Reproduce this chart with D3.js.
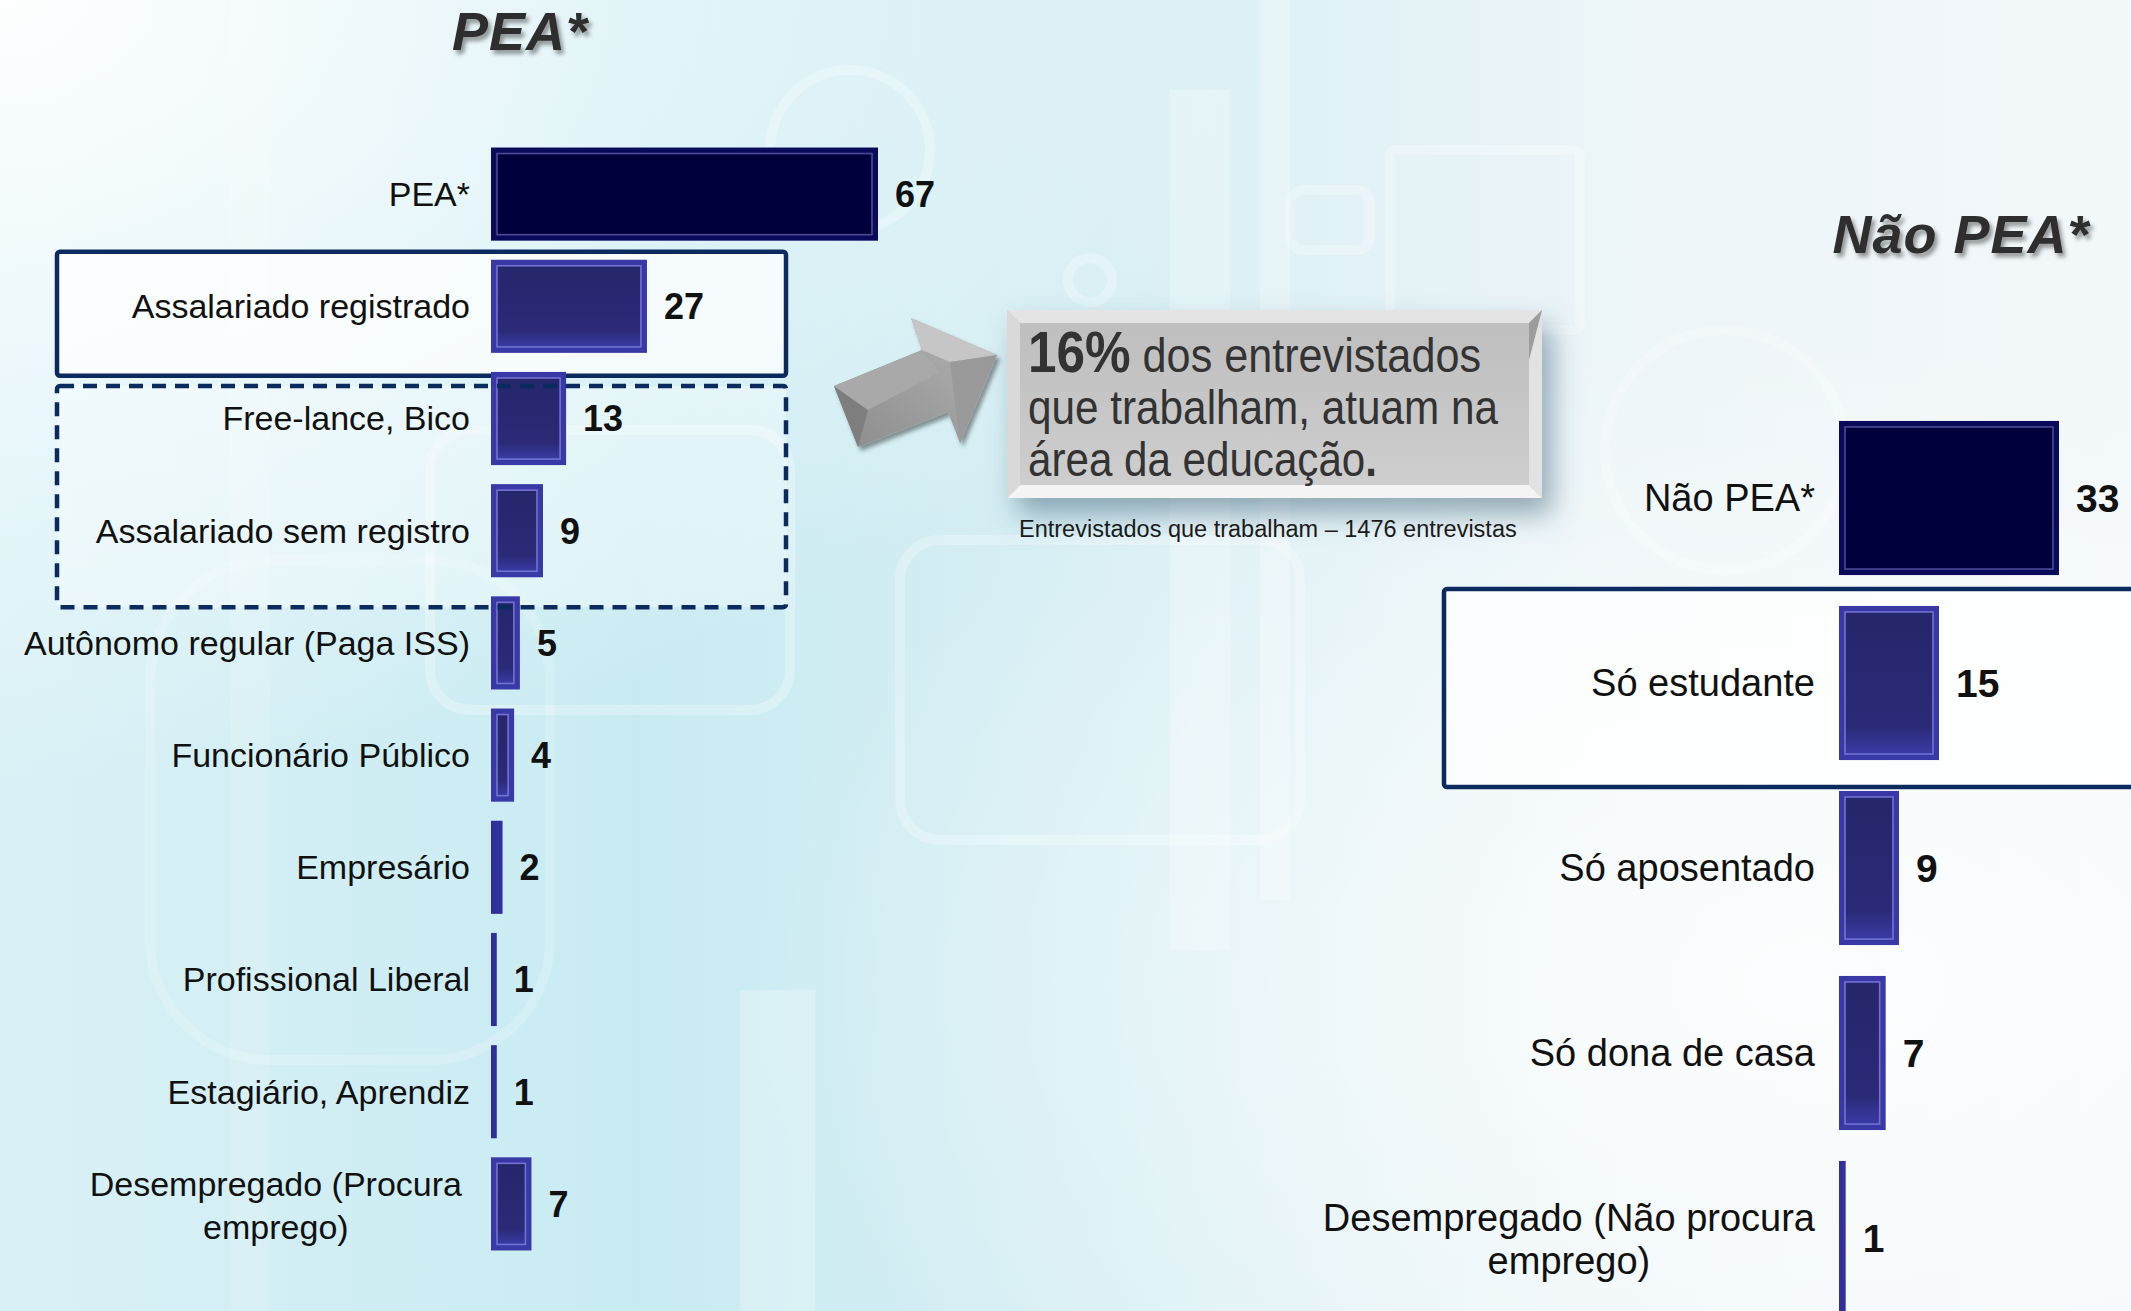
<!DOCTYPE html>
<html>
<head>
<meta charset="utf-8">
<script src="https://d3js.org/d3.v7.min.js"></script>
<style>
  body { margin: 0; overflow: hidden; }
  text { font-family: "Liberation Sans", Arial, sans-serif; fill: #111; }
</style>
</head>
<body>
<svg id="chart"></svg>
<script>
// --- data ---
const peaCategories = ["PEA*", "Assalariado registrado", "Free-lance, Bico", "Assalariado sem registro",
  "Autônomo regular (Paga ISS)", "Funcionário Público", "Empresário", "Profissional Liberal",
  "Estagiário, Aprendiz", "Desempregado (Procura emprego)"];
const peaValues = [67, 27, 13, 9, 5, 4, 2, 1, 1, 7];

const naoCategories = ["Não PEA*", "Só estudante", "Só aposentado", "Só dona de casa",
  "Desempregado (Não procura emprego)"];
const naoValues = [33, 15, 9, 7, 1];

const titles = ["PEA*", "Não PEA*"];
const calloutLines = [["16%", " dos entrevistados"], ["", "que trabalham, atuam na"], ["", "área da educação", "."]];
const calloutNote = "Entrevistados que trabalham – 1476 entrevistas";

const W = 2131, H = 1311;
const svg = d3.select("#chart").attr("width", W).attr("height", H);
const defs = svg.append("defs");

// background
const bg = defs.append("linearGradient").attr("id", "bg").attr("x1", 0).attr("x2", 1).attr("y1", 0).attr("y2", 0);
[["0%", "#d9f1f6"], ["30%", "#c8ebf2"], ["52%", "#d8eff4"], ["75%", "#ecf5f8"], ["100%", "#f3f8fa"]]
  .forEach(s => bg.append("stop").attr("offset", s[0]).attr("stop-color", s[1]));
const glow = defs.append("radialGradient").attr("id", "glow").attr("cx", 0).attr("cy", 0).attr("r", 0.6);
glow.append("stop").attr("offset", "0%").attr("stop-color", "#fff").attr("stop-opacity", 0.95);
glow.append("stop").attr("offset", "100%").attr("stop-color", "#fff").attr("stop-opacity", 0);
const glow2 = defs.append("radialGradient").attr("id", "glow2").attr("cx", 0.85).attr("cy", 0.75).attr("r", 0.5);
glow2.append("stop").attr("offset", "0%").attr("stop-color", "#fff").attr("stop-opacity", 0.8);
glow2.append("stop").attr("offset", "100%").attr("stop-color", "#fff").attr("stop-opacity", 0);

svg.append("rect").attr("width", W).attr("height", H).attr("fill", "url(#bg)");
svg.append("rect").attr("width", W).attr("height", H).attr("fill", "url(#glow)");
svg.append("rect").attr("width", W).attr("height", H).attr("fill", "url(#glow2)");

// faint decorative shapes
const deco = svg.append("g").attr("fill", "none").attr("stroke", "#fff").attr("stroke-opacity", 0.28).attr("stroke-width", 10);
deco.append("rect").attr("x", 430).attr("y", 430).attr("width", 360).attr("height", 280).attr("rx", 40);
deco.append("rect").attr("x", 900).attr("y", 540).attr("width", 400).attr("height", 300).attr("rx", 40);
deco.append("rect").attr("x", 1390).attr("y", 150).attr("width", 190).attr("height", 180).attr("rx", 6);
deco.append("rect").attr("x", 1290).attr("y", 190).attr("width", 80).attr("height", 60).attr("rx", 14);
deco.append("circle").attr("cx", 850).attr("cy", 150).attr("r", 80);
deco.append("circle").attr("cx", 1725).attr("cy", 450).attr("r", 120);
deco.append("circle").attr("cx", 1090).attr("cy", 280).attr("r", 22);
deco.append("rect").attr("x", 150).attr("y", 560).attr("width", 400).attr("height", 500).attr("rx", 120).attr("stroke-opacity", 0.18);
const decoFill = svg.append("g").attr("fill", "#fff").attr("fill-opacity", 0.25);
decoFill.append("rect").attr("x", 1170).attr("y", 90).attr("width", 60).attr("height", 860);
decoFill.append("rect").attr("x", 740).attr("y", 990).attr("width", 75).attr("height", 330);
decoFill.append("rect").attr("x", 1260).attr("y", 0).attr("width", 30).attr("height", 900);
decoFill.append("rect").attr("x", 230).attr("y", 0).attr("width", 40).attr("height", 1311).attr("fill-opacity", 0.15);

// filters
const tsh = defs.append("filter").attr("id", "tshadow").attr("x", "-20%").attr("y", "-20%").attr("width", "150%").attr("height", "160%");
tsh.append("feDropShadow").attr("dx", 3).attr("dy", 4).attr("stdDeviation", 2).attr("flood-color", "#000").attr("flood-opacity", 0.4);
const bsh = defs.append("filter").attr("id", "bshadow").attr("x", "-20%").attr("y", "-20%").attr("width", "150%").attr("height", "160%");
bsh.append("feDropShadow").attr("dx", 10).attr("dy", 16).attr("stdDeviation", 14).attr("flood-color", "#4a6a80").attr("flood-opacity", 0.55);

// --- scales ---
const xL = d3.scaleLinear().domain([0, 67]).range([491, 878]);
const yL = d3.scaleBand().domain(peaCategories).range([138, 1260]).paddingInner(0.17).paddingOuter(0.085);
const xR = d3.scaleLinear().domain([0, 33]).range([1839, 2059]);
const yR = d3.scaleBand().domain(naoCategories).range([405.5, 1330.5]).paddingInner(0.167).paddingOuter(0.0835);

// annotation boxes (behind bars)
const boxColor = "#0b2b5f";
const bwL = yL.bandwidth(), bwR = yR.bandwidth();
svg.append("rect")
  .attr("x", 57).attr("width", 786 - 57)
  .attr("y", yL(peaCategories[1]) - 8).attr("height", bwL + 31)
  .attr("fill", "#fff").attr("fill-opacity", 0.75)
  .attr("stroke", boxColor).attr("stroke-width", 4.5).attr("rx", 3);
svg.append("rect")
  .attr("x", 1444).attr("width", 720)
  .attr("y", yR(naoCategories[1]) - 17).attr("height", bwR + 44)
  .attr("fill", "#fff").attr("fill-opacity", 0.75)
  .attr("stroke", boxColor).attr("stroke-width", 4.5).attr("rx", 3);
const dashY0 = yL(peaCategories[2]) + 14, dashY1 = yL(peaCategories[3]) + bwL + 30;
svg.append("rect")
  .attr("x", 57).attr("width", 786 - 57)
  .attr("y", dashY0).attr("height", dashY1 - dashY0)
  .attr("fill", "#fff").attr("fill-opacity", 0.35)
  .attr("stroke", "none");

// bevel gradients for bars
const bevel = defs.append("linearGradient").attr("id", "bevel").attr("x1", 0).attr("y1", 0).attr("x2", 0).attr("y2", 1);
bevel.append("stop").attr("offset", "0%").attr("stop-color", "#26266c");
bevel.append("stop").attr("offset", "80%").attr("stop-color", "#2a2a76");
bevel.append("stop").attr("offset", "100%").attr("stop-color", "#3a3aa6");

function drawBars(g, cats, vals, x, y) {
  const bw = y.bandwidth();
  const data = cats.map((c, i) => ({ c: c, v: vals[i], main: i === 0 }));
  const bar = g.selectAll("g.bar").data(data).enter().append("g").attr("class", "bar");
  bar.append("rect")
    .attr("x", x(0)).attr("y", d => y(d.c))
    .attr("width", d => Math.max(3, x(d.v) - x(0))).attr("height", bw)
    .attr("fill", d => d.main ? "#0a0a5a" : (d.v <= 2 ? "#30309a" : "#3838a6"));
  bar.filter(d => x(d.v) - x(0) > 14).append("rect")
    .attr("x", x(0) + 6).attr("y", d => y(d.c) + 6)
    .attr("width", d => x(d.v) - x(0) - 12).attr("height", bw - 12)
    .attr("fill", d => d.main ? "#00003c" : "url(#bevel)")
    .attr("stroke", d => d.main ? "#4a4a96" : "#7272d2").attr("stroke-width", 1.6);
}

function drawLabels(g, cats, vals, x, y, fs, vfs, gap, wrapShift) {
  const lx = x(0) - gap;
  cats.forEach((c, i) => {
    const cy = y(c) + y.bandwidth() / 2;
    const lines = c.startsWith("Desempregado") ? [c.slice(0, c.lastIndexOf(" ")), c.slice(c.lastIndexOf(" ") + 1)] : [c];
    if (lines.length === 1) {
      g.append("text").attr("x", lx).attr("y", cy).attr("dy", "0.35em")
        .attr("text-anchor", "end").style("font-size", fs + "px").text(c);
    } else {
      const t1 = g.append("text").attr("x", lx - wrapShift).attr("y", cy - 20).attr("dy", "0.35em")
        .attr("text-anchor", "end").style("font-size", fs + "px").text(lines[0]);
      const w = t1.node().getComputedTextLength();
      g.append("text").attr("x", lx - wrapShift - w / 2).attr("y", cy + 23).attr("dy", "0.35em")
        .attr("text-anchor", "middle").style("font-size", fs + "px").text(lines[1]);
    }
    g.append("text").attr("x", x(vals[i]) + 17).attr("y", cy).attr("dy", "0.36em")
      .style("font-size", vfs + "px").style("font-weight", "bold").text(vals[i]);
  });
}

const left = svg.append("g");
drawBars(left, peaCategories, peaValues, xL, yL);
drawLabels(left, peaCategories, peaValues, xL, yL, 34, 36, 21, 8);

// dashed box on top of bars
svg.append("rect")
  .attr("x", 57).attr("width", 786 - 57)
  .attr("y", dashY0).attr("height", dashY1 - dashY0)
  .attr("fill", "none").attr("stroke", boxColor).attr("stroke-width", 4.5)
  .attr("stroke-dasharray", "14,9").attr("rx", 3);

const right = svg.append("g");
drawBars(right, naoCategories, naoValues, xR, yR);
drawLabels(right, naoCategories, naoValues, xR, yR, 38, 39, 24, 0);

// titles
svg.append("text").attr("x", 520).attr("y", 50).attr("text-anchor", "middle")
  .attr("filter", "url(#tshadow)")
  .style("font-size", "54px").style("font-weight", "bold").style("font-style", "italic")
  .style("letter-spacing", "1px")
  .style("fill", "#2e2e2e").text(titles[0]);
svg.append("text").attr("x", 1961).attr("y", 253).attr("text-anchor", "middle")
  .attr("filter", "url(#tshadow)")
  .style("font-size", "54px").style("font-weight", "bold").style("font-style", "italic")
  .style("letter-spacing", "1px")
  .style("fill", "#2e2e2e").text(titles[1]);

// arrow
const ag = defs.append("linearGradient").attr("id", "arrowG").attr("x1", 0).attr("y1", 1).attr("x2", 1).attr("y2", 0);
ag.append("stop").attr("offset", "0%").attr("stop-color", "#8c8c8c");
ag.append("stop").attr("offset", "100%").attr("stop-color", "#b4b4b4");
const arrow = svg.append("g").attr("filter", "url(#tshadow)");
arrow.append("polygon")
  .attr("points", "834,386 922,350 911,318 997,355 960,443 948,412 858,447")
  .attr("fill", "url(#arrowG)");
arrow.append("polygon").attr("points", "834,386 858,447 868,410").attr("fill", "#7e7e7e");
arrow.append("polygon").attr("points", "911,318 997,355 950,362 922,350").attr("fill", "#c6c6c6");
arrow.append("polygon").attr("points", "997,355 960,443 950,362").attr("fill", "#9a9a9a");
arrow.append("polygon").attr("points", "834,386 922,350 940,372 868,410").attr("fill", "#a9a9a9");

// callout box
const cb = { x: 1007, y: 310, w: 535, h: 188, b: 13 };
const cg = defs.append("linearGradient").attr("id", "calloutG").attr("x1", 0).attr("y1", 0).attr("x2", 0).attr("y2", 1);
cg.append("stop").attr("offset", "0%").attr("stop-color", "#bdbdbd");
cg.append("stop").attr("offset", "100%").attr("stop-color", "#cfcfcf");
const call = svg.append("g");
call.append("rect").attr("x", cb.x).attr("y", cb.y).attr("width", cb.w).attr("height", cb.h)
  .attr("fill", "url(#calloutG)").attr("filter", "url(#bshadow)");
const bx0 = cb.x, by0 = cb.y, bx1 = cb.x + cb.w, by1 = cb.y + cb.h, b = cb.b;
call.append("polygon").attr("points", [[bx0, by0], [bx1, by0], [bx1 - b, by0 + b], [bx0 + b, by0 + b]].join(" ")).attr("fill", "#e4e4e4");
call.append("polygon").attr("points", [[bx0, by1], [bx1, by1], [bx1 - b, by1 - b], [bx0 + b, by1 - b]].join(" ")).attr("fill", "#f4f4f4");
call.append("polygon").attr("points", [[bx0, by0], [bx0 + b, by0 + b], [bx0 + b, by1 - b], [bx0, by1]].join(" ")).attr("fill", "#d9d9d9");
call.append("polygon").attr("points", [[bx1, by0], [bx1 - b, by0 + b], [bx1 - b, by1 - b], [bx1, by1]].join(" ")).attr("fill", "#e2e2e2");
call.append("polygon").attr("points", [[bx1, by0], [bx1 - b, by0 + b], [bx1 - b, by0 + 50]].join(" ")).attr("fill", "#9c9c9c");

const lineW = [453, 470, 349];
calloutLines.forEach((ln, i) => {
  const t = call.append("text").attr("x", 1028).attr("y", 372 + i * 52)
    .attr("textLength", lineW[i]).attr("lengthAdjust", "spacingAndGlyphs")
    .style("font-size", "48px").style("fill", "#333");
  if (ln[0]) t.append("tspan").style("font-weight", "bold").style("font-size", "57px").text(ln[0]);
  t.append("tspan").text(ln[1]);
  if (ln[2]) t.append("tspan").style("font-weight", "bold").text(ln[2]);
});
svg.append("text").attr("x", 1019).attr("y", 537).style("font-size", "23.5px").style("fill", "#1a1a1a").text(calloutNote);
</script>
</body>
</html>
